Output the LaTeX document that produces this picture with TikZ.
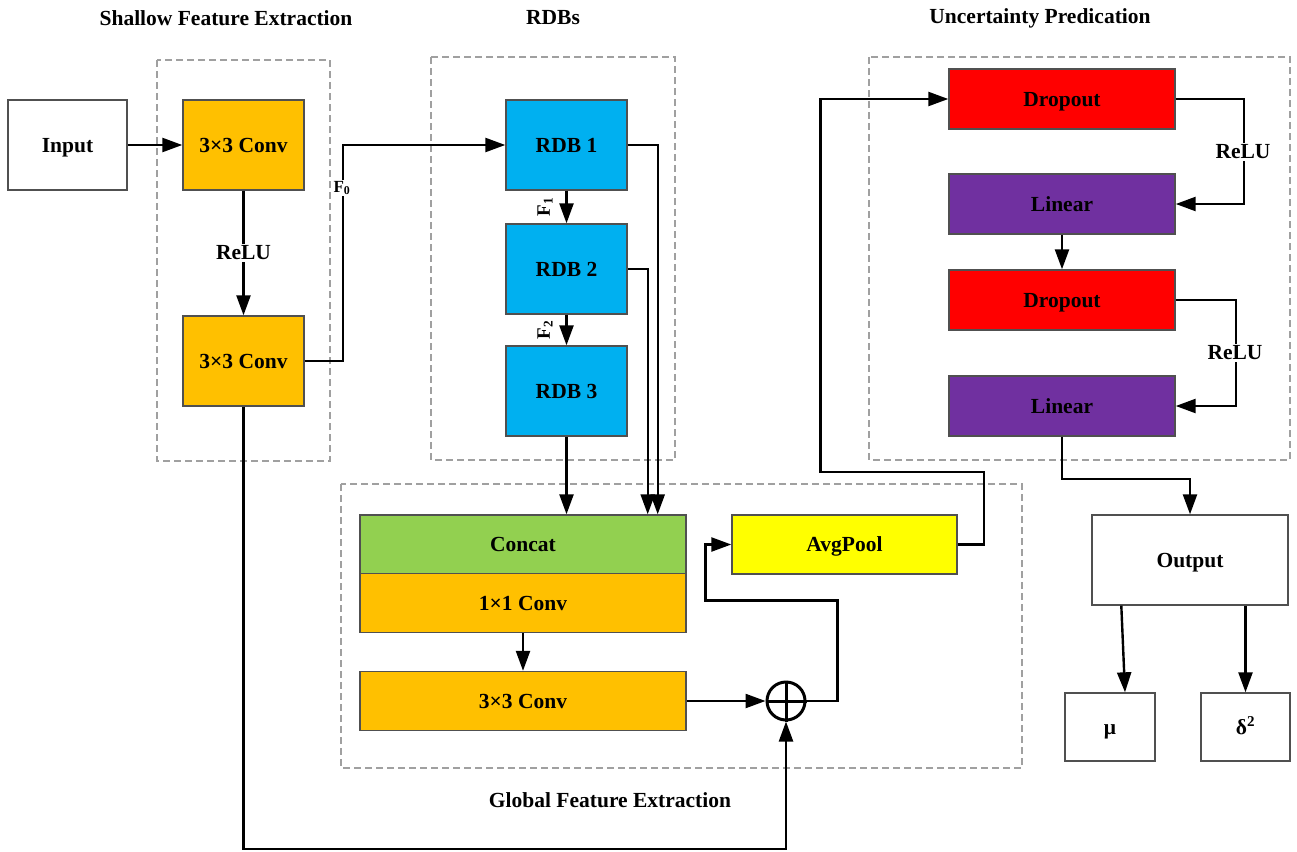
\documentclass[tikz,border=0pt]{standalone}
\usepackage{fontspec}
\setmainfont{Liberation Serif}
\usetikzlibrary{arrows.meta,calc}
\definecolor{cOrange}{HTML}{FFC000}
\definecolor{cBlue}{HTML}{00B0F0}
\definecolor{cGreen}{HTML}{92D050}
\definecolor{cYellow}{HTML}{FFFF00}
\definecolor{cRed}{HTML}{FF0000}
\definecolor{cPurple}{HTML}{7030A0}
\definecolor{cBorder}{HTML}{505050}
\definecolor{cDash}{HTML}{A0A0A0}
\begin{document}
\begin{tikzpicture}[x=1pt,y=-1pt,
  font=\fontsize{21.5}{24}\selectfont\bfseries,
  blk/.style={draw=cBorder,line width=1.4pt,minimum width=#1,inner sep=0pt,text height=14pt,text depth=0pt},
  b121/.style={blk=121pt,minimum height=90pt},
  wide/.style={blk=326pt,minimum height=59pt},
  unc/.style={blk=226pt,minimum height=60pt},
  grp/.style={draw=cDash,dashed,dash pattern=on 7pt off 4pt,line width=1.2pt},
  arr/.style={line width=2.4pt,-{Triangle[length=20pt,width=14pt]}},
  lbl/.style={fill=white,inner sep=2pt},
  ttl/.style={inner sep=0pt}]
\useasboundingbox (0,0) rectangle (1297,851);
% groups
\draw[grp] (157,60) rectangle (330,461);
\draw[grp] (431,57) rectangle (675,460);
\draw[grp] (341,484) rectangle (1022,768);
\draw[grp] (869,57) rectangle (1290,460);
% titles
\node[ttl] (t1) at (226,18) {Shallow Feature Extraction};
\node[ttl] (t2) at (553,18) {RDBs};
\node[ttl] (t3) at (1040,18) {Uncertainty Predication};
\node[ttl] (t4) at (610,800) {Global Feature Extraction};
% shallow
\node[b121,minimum width=119pt] (in) at (67.5,145) {Input};
\node[b121,fill=cOrange] (c1) at (243.5,145) {3×3 Conv};
\node[b121,fill=cOrange] (c2) at (243.5,361) {3×3 Conv};
% RDBs
\node[b121,fill=cBlue] (r1) at (566.5,145) {RDB 1};
\node[b121,fill=cBlue] (r2) at (566.5,269) {RDB 2};
\node[b121,fill=cBlue] (r3) at (566.5,391) {RDB 3};
% global
\node[wide,fill=cGreen] (cat) at (523,544.5) {Concat};
\node[wide,fill=cOrange] (c11) at (523,603) {1×1 Conv};
\node[wide,fill=cOrange] (c33) at (523,701) {3×3 Conv};
\node[blk=225pt,minimum height=59pt,fill=cYellow] (avg) at (844.5,544.5) {AvgPool};
\node[circle,draw,line width=3pt,minimum size=38pt,inner sep=0pt] (plus) at (786,701) {};
\draw[line width=3pt] (plus.north) -- (plus.south) (plus.west) -- (plus.east);
% uncertainty
\node[unc,fill=cRed] (d1) at (1062,99) {Dropout};
\node[unc,fill=cPurple] (l1) at (1062,204) {Linear};
\node[unc,fill=cRed] (d2) at (1062,300) {Dropout};
\node[unc,fill=cPurple] (l2) at (1062,406) {Linear};
\node[blk=196pt,minimum height=90pt] (out) at (1190,560) {Output};
\node[blk=90pt,minimum height=68pt] (mu) at (1110,727) {μ};
\node[blk=89pt,minimum height=68pt] (dl) at (1245.5,727) {δ\textsuperscript{2}};
% connectors shallow
\draw[arr] (in.east) -- (c1.west);
\draw[arr] (c1.south) -- (c2.north);
\node[lbl] (relu0) at (243.5,253) {ReLU};
\draw[arr] (c2.east) -- ++(38,0) |- (r1.west);
\node[lbl,font=\fontsize{17}{19}\selectfont\bfseries,inner sep=1pt] (f0) at (342,188) {F\textsubscript{0}};
% RDB chain
\draw[arr] (r1.south) -- (r2.north);
\draw[arr] (r2.south) -- (r3.north);
\node[rotate=90,inner sep=0pt,font=\fontsize{19}{21}\selectfont\bfseries] (f1) at (545,207) {F\textsubscript{1}};
\node[rotate=90,inner sep=0pt,font=\fontsize{19}{21}\selectfont\bfseries] (f2) at (545,330) {F\textsubscript{2}};
\draw[arr] (r3.south) -- (r3.south |- cat.north);
\draw[arr] (r1.east) -| ($(cat.north east)+(-29,0)$);
\draw[arr] (r2.east) -| ($(cat.north east)+(-39,0)$);
% global
\draw[arr] (c11.south) -- (c33.north);
\draw[arr] (c33.east) -- (plus.west);
\draw[arr] (c2.south) -- ++(0,442) -| (plus.south);
\draw[arr] (plus.east) -- ++(31,0) |- ($(avg.west)+(-26,56)$) |- (avg.west);
\draw[arr] (avg.east) -- ++(26,0) |- ($(d1.west)+(-128,373)$) |- (d1.west);
% uncertainty
\draw[arr] (d1.east) -- ++(68,0) |- (l1.east);
\node[lbl] (relu1) at (1243,152) {ReLU};
\draw[arr] (l1.south) -- (d2.north);
\draw[arr] (d2.east) -- ++(60,0) |- (l2.east);
\node[lbl] (relu2) at (1235,353) {ReLU};
\draw[arr] (l2.south) -- ++(0,42) -| (out.north);
\draw[arr] ($(out.south west)+(30,0)$) -- ($(mu.north)+(15,0)$);
\draw[arr] (dl.north |- out.south) -- (dl.north);
\end{tikzpicture}
\end{document}
